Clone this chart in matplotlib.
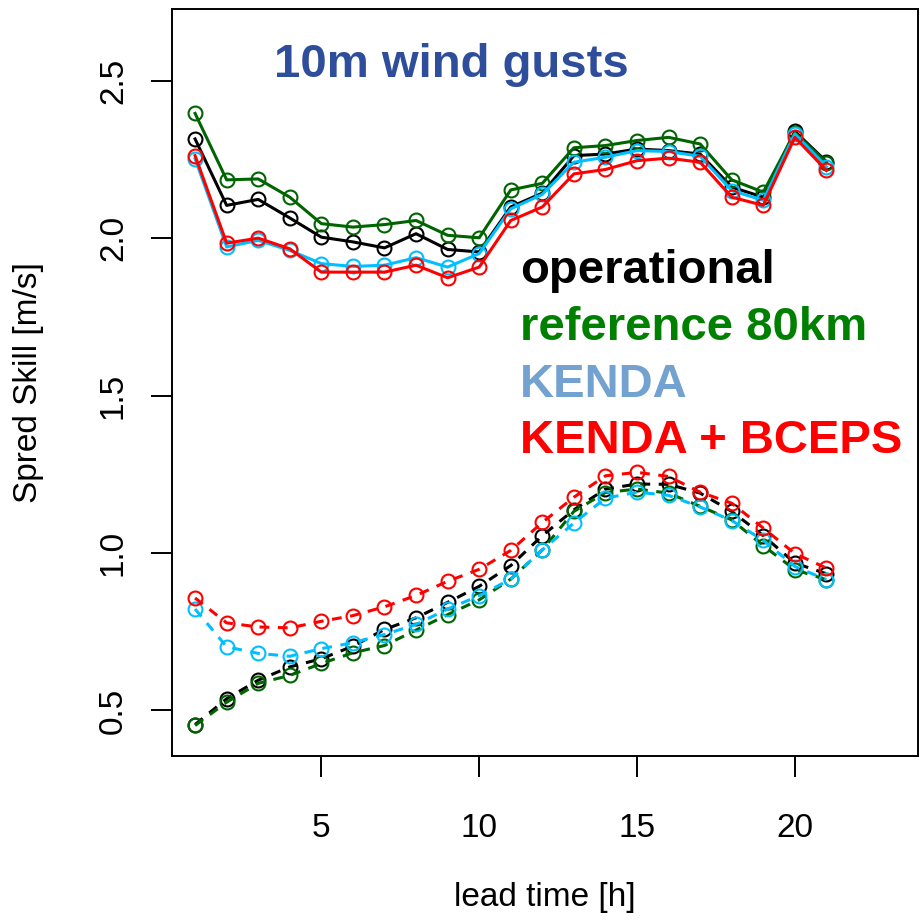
import numpy as np
import matplotlib
matplotlib.use('Agg')
import matplotlib.pyplot as plt

plt.rcParams['font.family'] = ['Liberation Sans', 'DejaVu Sans']

# lead times [h]
lead = list(range(1, 22))

# spread (dashed) and skill (solid) for the four experiments
op_skill = [2.315, 2.104, 2.123, 2.064, 2.003, 1.988, 1.969, 2.014, 1.964, 1.956, 2.099,
            2.143, 2.262, 2.267, 2.283, 2.278, 2.267, 2.162, 2.130, 2.339, 2.243]
ref_skill = [2.396, 2.185, 2.188, 2.130, 2.046, 2.035, 2.043, 2.056, 2.009, 2.001, 2.153,
             2.174, 2.287, 2.294, 2.310, 2.320, 2.299, 2.185, 2.146, 2.335, 2.240]
kenda_skill = [2.252, 1.972, 1.993, 1.961, 1.919, 1.910, 1.914, 1.938, 1.908, 1.951, 2.093,
               2.139, 2.241, 2.257, 2.278, 2.275, 2.260, 2.151, 2.120, 2.331, 2.227]
bceps_skill = [2.262, 1.984, 2.000, 1.966, 1.892, 1.892, 1.892, 1.914, 1.874, 1.908, 2.056,
               2.099, 2.204, 2.218, 2.246, 2.254, 2.241, 2.130, 2.104, 2.320, 2.215]

op_spread = [0.455, 0.537, 0.596, 0.638, 0.664, 0.704, 0.757, 0.794, 0.843, 0.894, 0.960,
             1.055, 1.137, 1.203, 1.219, 1.218, 1.190, 1.132, 1.055, 0.968, 0.934]
ref_spread = [0.452, 0.526, 0.586, 0.611, 0.649, 0.683, 0.706, 0.755, 0.804, 0.851, 0.917,
              1.010, 1.132, 1.192, 1.203, 1.190, 1.148, 1.105, 1.023, 0.947, 0.915]
kenda_spread = [0.822, 0.702, 0.681, 0.672, 0.696, 0.715, 0.741, 0.773, 0.822, 0.864, 0.917,
                1.010, 1.095, 1.174, 1.193, 1.183, 1.146, 1.103, 1.040, 0.957, 0.915]
bceps_spread = [0.857, 0.778, 0.765, 0.762, 0.783, 0.801, 0.829, 0.865, 0.910, 0.948, 1.008,
                1.097, 1.177, 1.245, 1.256, 1.243, 1.193, 1.158, 1.079, 0.998, 0.952]

names = ['operational', 'reference 80km', 'KENDA', 'KENDA + BCEPS']
line_cols = ['black', '#006400', '#00BFFF', '#FF0000']
text_cols = ['black', '#008000', '#74A2D0', '#FF0000']

fig = plt.figure(figsize=(9.21, 9.22), dpi=100)
ax = fig.add_axes([0.1868, 0.180, 0.8099, 0.810])

skills = [op_skill, ref_skill, kenda_skill, bceps_skill]
spreads = [op_spread, ref_spread, kenda_spread, bceps_spread]

for s, c in zip(skills, line_cols):
    ax.plot(lead, s, '-', color=c, lw=2.2, marker='o', ms=10,
            mfc='none', mec=c, mew=1.5)
for s, c in zip(spreads, line_cols):
    ax.plot(lead, s, '--', color=c, lw=2.2, marker='o', ms=10,
            mfc='none', mec=c, mew=1.5, dashes=(3.2, 2.8))

ax.set_xlim(0.27, 23.9)
ax.set_ylim(0.355, 2.727)
ax.set_xticks([5, 10, 15, 20])
ax.set_yticks([0.5, 1.0, 1.5, 2.0, 2.5])
ax.set_yticklabels(['0.5', '1.0', '1.5', '2.0', '2.5'], rotation=90, va='center')
ax.tick_params(axis='both', direction='out', length=15, width=1.4, labelsize=24)
ax.tick_params(axis='y', pad=16)
ax.tick_params(axis='x', pad=26)
for sp in ax.spines.values():
    sp.set_linewidth(1.4)

ax.set_xlabel('lead time [h]', fontsize=24, va='center')
ax.set_ylabel('Spred Skill [m/s]', fontsize=24, va='center')
ax.xaxis.set_label_coords(0.5, -0.189)
ax.yaxis.set_label_coords(-0.193, 0.5)

ax.text(0.374, 0.909, '10m wind gusts', transform=ax.transAxes, ha='center',
        va='baseline', fontsize=34, fontweight='bold', color='#2E4D9B')
ys = [0.633, 0.557, 0.481, 0.406]
for n, c, y in zip(names, text_cols, ys):
    ax.text(0.4665, y, n, transform=ax.transAxes, ha='left', va='baseline',
            fontsize=34, fontweight='bold', color=c)

fig.savefig('out.png', dpi=100)
